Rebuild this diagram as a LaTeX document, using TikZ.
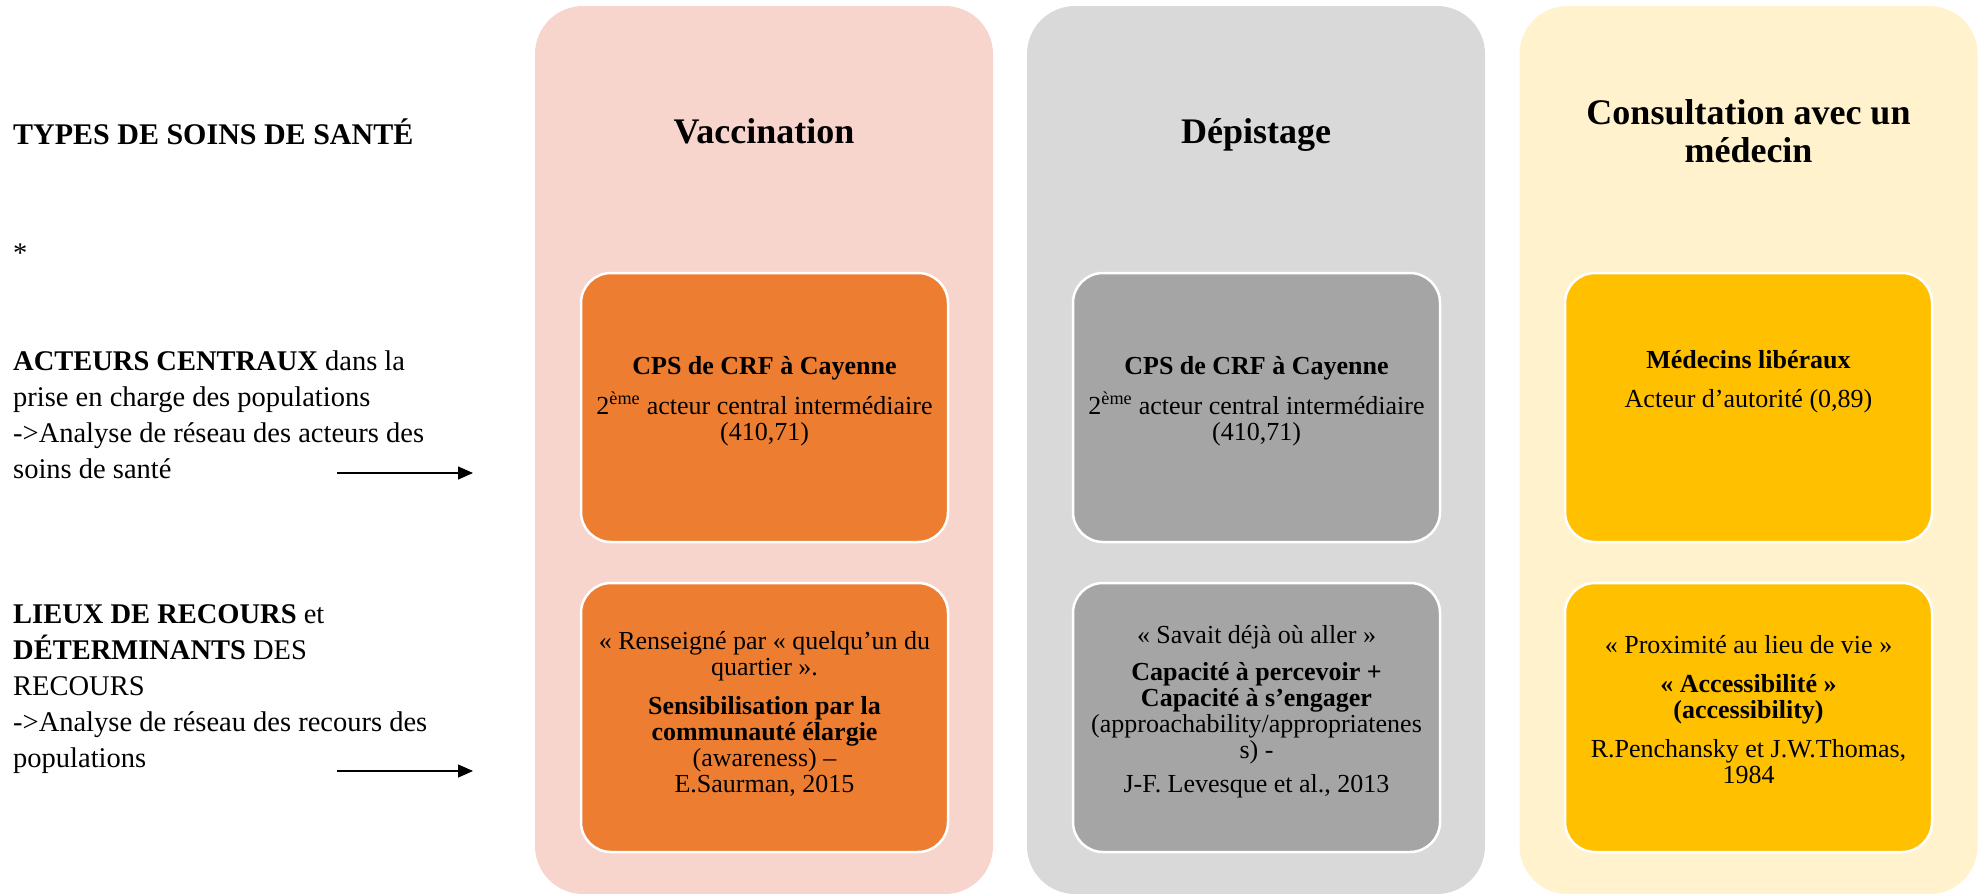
\documentclass[tikz,border=0pt]{standalone}
\usepackage{fontspec}
\setmainfont{Liberation Serif}
\usetikzlibrary{arrows.meta}
\definecolor{vacbg}{HTML}{F8D5CC}
\definecolor{vacfg}{HTML}{ED7D31}
\definecolor{depbg}{HTML}{D9D9D9}
\definecolor{depfg}{HTML}{A5A5A5}
\definecolor{conbg}{HTML}{FFF2CC}
\definecolor{confg}{HTML}{FFC000}
\tikzset{
  colbox/.style={rounded corners=48pt, minimum width=458pt, minimum height=888pt, inner sep=0pt, draw=none},
  innerbox/.style={rounded corners=30pt, minimum width=367pt, minimum height=269pt, inner sep=0pt, draw=white, line width=2.5pt},
  header/.style={anchor=base, align=center, font=\fontsize{36}{38}\selectfont\bfseries, inner sep=0pt},
  boxtext/.style={anchor=base, align=center, font=\fontsize{26}{26}\selectfont, inner sep=0pt},
  lefttext/.style={anchor=base west, align=left, font=\fontsize{28.5}{35.8}\selectfont, inner sep=0pt},
  pointer/.style={line width=1.3pt, -{Triangle[length=15pt,width=13pt]}}
}
\begin{document}
\begin{tikzpicture}[x=1pt,y=-1pt]
\useasboundingbox (0,0) rectangle (1981,894);
% columns
\node[colbox, fill=vacbg] (colV) at (764,450) {};
\node[colbox, fill=depbg] (colD) at (1256,450) {};
\node[colbox, fill=conbg] (colC) at (1748.5,450) {};
% headers (anchor base = last line)
\node[header] (hV) at (764,143) {Vaccination};
\node[header] (hD) at (1256,143) {Dépistage};
\node[header] (hC) at (1748.5,162) {Consultation avec un\\médecin};
% inner boxes
\node[innerbox, fill=vacfg] (vTop) at (764.5,407.5) {};
\node[innerbox, fill=vacfg] (vBot) at (764.5,717.5) {};
\node[innerbox, fill=depfg] (dTop) at (1256.5,407.5) {};
\node[innerbox, fill=depfg] (dBot) at (1256.5,717.5) {};
\node[innerbox, fill=confg] (cTop) at (1748.5,407.5) {};
\node[innerbox, fill=confg] (cBot) at (1748.5,717.5) {};
% inner texts (anchor base = last line)
\node[boxtext] (tvTop) at (764.5,440) {\textbf{CPS de CRF à Cayenne}\\[11pt]2\textsuperscript{ème} acteur central intermédiaire\\(410,71)};
\node[boxtext] (tdTop) at (1256.5,440) {\textbf{CPS de CRF à Cayenne}\\[11pt]2\textsuperscript{ème} acteur central intermédiaire\\(410,71)};
\node[boxtext] (tcTop) at (1748.5,407) {\textbf{Médecins libéraux}\\[13pt]Acteur d’autorité (0,89)};
\node[boxtext] (tvBot) at (764.5,792) {« Renseigné par « quelqu’un du\\quartier ».\\[13pt]\textbf{Sensibilisation par la}\\\textbf{communauté élargie}\\(awareness) –\\E.Saurman, 2015};
\node[boxtext] (tdBot) at (1256.5,792) {« Savait déjà où aller »\\[11pt]\textbf{Capacité à percevoir +}\\\textbf{Capacité à s’engager}\\(approachability/appropriatenes\\s) -\\[8pt]J-F. Levesque et al., 2013};
\node[boxtext] (tcBot) at (1748.5,783) {« Proximité au lieu de vie »\\[13pt]\textbf{« Accessibilité »}\\\textbf{(accessibility)}\\[13pt]R.Penchansky et J.W.Thomas,\\1984};
% left texts (anchor base = last line)
\node[lefttext, font=\fontsize{30}{36}\selectfont] (types) at (13,144) {\textbf{TYPES DE SOINS DE SANTÉ}};
\node[lefttext] (star) at (13,262) {*};
\node[lefttext] (acteurs) at (13,478) {\textbf{ACTEURS CENTRAUX} dans la\\prise en charge des populations\\->Analyse de réseau des acteurs des\\soins de santé};
\node[lefttext] (lieux) at (13,767) {\textbf{LIEUX DE RECOURS} et\\\textbf{DÉTERMINANTS} DES\\RECOURS\\->Analyse de réseau des recours des\\populations};
% arrows
\coordinate (a1s) at (337,473);
\coordinate (a1e) at (473,473);
\coordinate (a2s) at (337,771);
\coordinate (a2e) at (473,771);
\draw[pointer] (a1s) -- (a1e);
\draw[pointer] (a2s) -- (a2e);
\end{tikzpicture}
\end{document}
